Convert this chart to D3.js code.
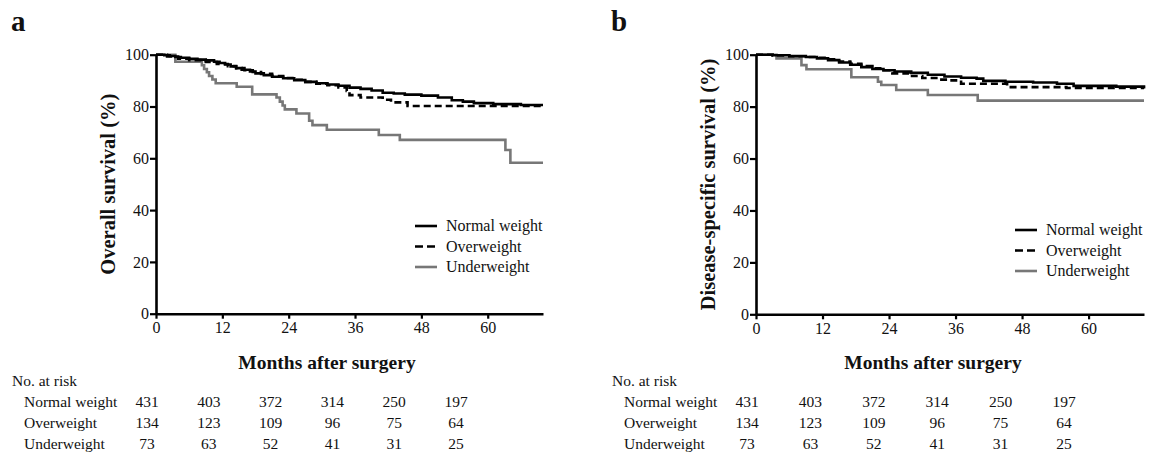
<!DOCTYPE html>
<html>
<head>
<meta charset="utf-8">
<script src="https://cdn.jsdelivr.net/npm/d3@7"></script>
<style>
  html, body { margin: 0; padding: 0; background: #fff; }
  svg { display: block; font-family: "Liberation Serif", "Times New Roman", serif; }
</style>
</head>
<body>
<svg id="chart" width="1150" height="460"></svg>
<script>
// ---------- data ----------
const groups = ["Normal weight", "Overweight", "Underweight"];
const xTicks = [0, 12, 24, 36, 48, 60];
const yTicks = [0, 20, 40, 60, 80, 100];
const maxMonth = 70;

// Overall survival (panel a): [month, survival %]
const osNormal = [[0,100],[1.5,99.8],[2.5,99.5],[3.5,99.1],[4.5,98.8],[6,98.4],[7.5,98.1],[9,97.8],[10.5,97.3],[11.5,96.8],[12.5,96.2],[13.5,95.5],[14.5,94.8],[15.5,94.2],[17,93.5],[18,92.8],[19.5,92.1],[21,91.5],[23,90.9],[25,90.2],[27,89.5],[29,89.0],[31,88.5],[33,88.0],[35,87.3],[37,86.8],[39,86.2],[41,85.3],[43,85.0],[45,84.6],[48,84.2],[51,83.5],[53.5,82.4],[55.5,81.9],[57.5,81.3],[61,80.9],[66,80.6],[70,80.6]];
const osOver = [[0,100],[2,99.3],[4,98.5],[6,97.9],[9,97.2],[11,96.4],[13,95.6],[14.5,94.8],[16,94.0],[17.5,93.3],[19,92.6],[21,91.8],[23,91.0],[25,90.3],[27,89.5],[29,88.8],[31,88.2],[33,87.4],[34.5,86.0],[35,84.4],[37,83.5],[41,82.6],[42.5,81.6],[45.5,80.2],[70,80.1]];
const osUnder = [[0,100],[3.5,97.3],[8.3,95.9],[8.7,94.5],[9.2,93.2],[9.6,91.8],[10.2,90.4],[10.8,89.0],[14.6,87.6],[17.4,84.7],[21.8,83.5],[22.4,81.9],[22.9,80.4],[23.3,78.9],[25.4,77.3],[27.7,74.5],[28.3,72.8],[30.9,71.0],[40.3,69.0],[44.1,67.1],[63.2,63.2],[64.1,58.3],[70,58.3]];

// Disease-specific survival (panel b)
const dssNormal = [[0,100],[3,99.8],[6,99.5],[9,99.1],[11,98.6],[13,97.9],[15,97.0],[17,96.1],[19,95.2],[21,94.5],[23,94.0],[25,93.5],[28,93.0],[31,92.3],[34,91.6],[37,91.1],[39.8,90.8],[41,89.9],[45,89.6],[50,89.3],[54.3,88.8],[57.3,88.0],[65,87.7],[70,87.5]];
const dssOver = [[0,100],[3,99.7],[6,99.4],[9,99.1],[11,98.8],[13,98.2],[15,97.4],[17,96.5],[19,95.6],[21,94.8],[23,94.0],[24.6,92.8],[27.6,91.8],[30,91.0],[33,90.4],[35,90.1],[37,88.8],[45.3,87.5],[56,87.2],[70,87.0]];
const dssUnder = [[0,100],[3.7,98.6],[8.2,96.0],[9.1,94.4],[17.2,91.3],[22.0,89.6],[22.6,88.3],[25.3,86.4],[31.0,84.5],[40.0,82.3],[70,82.3]];

// Numbers at risk (same in both panels)
const riskNormal = [431, 403, 372, 314, 250, 197];
const riskOver = [134, 123, 109, 96, 75, 64];
const riskUnder = [73, 63, 52, 41, 31, 25];

// ---------- drawing ----------
const svg = d3.select("#chart");
svg.append("rect").attr("width", 1150).attr("height", 460).attr("fill", "#fff");

const styles = [
  { color: "#000", dash: null },
  { color: "#000", dash: "7,4" },
  { color: "#777", dash: null }
];

const panels = [
  { letter: "a", lx: 11, ylabel: "Overall survival (%)", x0: 156, x1: 543, y0: 313.7, y1: 54.7,
    series: [osNormal, osOver, osUnder], legX: 415, legY: 226,
    tabX: 12, colX0: 147, colDx: 61.8, titleX: 327 },
  { letter: "b", lx: 611, ylabel: "Disease-specific survival (%)", x0: 756, x1: 1144, y0: 314.3, y1: 54.7,
    series: [dssNormal, dssOver, dssUnder], legX: 1015, legY: 230,
    tabX: 612, colX0: 747, colDx: 63.4, titleX: 933 }
];
const risks = [riskNormal, riskOver, riskUnder];

panels.forEach(p => {
  const g = svg.append("g");
  const x = d3.scaleLinear().domain([0, maxMonth]).range([p.x0, p.x1]);
  const y = d3.scaleLinear().domain([0, 100]).range([p.y0, p.y1]);

  // panel letter
  g.append("text").attr("x", p.lx).attr("y", 31)
    .attr("font-size", 29).attr("font-weight", "bold").attr("fill", "#111").text(p.letter);

  // curves
  const line = d3.line().x(d => x(d[0])).y(d => y(d[1])).curve(d3.curveStepAfter);
  [2, 1, 0].forEach(i => {
    g.append("path").datum(p.series[i])
      .attr("d", line)
      .attr("fill", "none")
      .attr("stroke", styles[i].color)
      .attr("stroke-width", 2.6)
      .attr("stroke-dasharray", styles[i].dash);
  });

  // axes
  const xAxis = d3.axisBottom(x).tickValues(xTicks).tickSize(5).tickSizeOuter(0).tickPadding(3);
  const yAxis = d3.axisLeft(y).tickValues(yTicks).tickSize(6).tickSizeOuter(0).tickPadding(1);
  const gx = g.append("g").attr("transform", `translate(0,${p.y0})`).call(xAxis);
  const gy = g.append("g").attr("transform", `translate(${p.x0},0)`).call(yAxis);
  [gx, gy].forEach(a => {
    a.attr("font-family", null);
    a.select(".domain").attr("stroke", "#000").attr("stroke-width", 2.6);
    a.selectAll(".tick line").attr("stroke", "#000").attr("stroke-width", 2.2);
    a.selectAll(".tick text").attr("font-size", 16).attr("fill", "#111");
  });

  // axis titles
  g.append("text").attr("x", p.titleX).attr("y", 369)
    .attr("text-anchor", "middle").attr("font-size", 19.5).attr("font-weight", "bold")
    .attr("fill", "#111").text("Months after surgery");
  g.append("text")
    .attr("transform", `translate(${p.x0 - 41},${(p.y0 + p.y1) / 2}) rotate(-90)`)
    .attr("text-anchor", "middle").attr("font-size", 20.5).attr("font-weight", "bold")
    .attr("fill", "#111").text(p.ylabel);

  // legend
  groups.forEach((name, i) => {
    const ly = p.legY + i * 20.5;
    g.append("line").attr("x1", p.legX).attr("x2", p.legX + 22).attr("y1", ly).attr("y2", ly)
      .attr("stroke", styles[i].color).attr("stroke-width", 2.6)
      .attr("stroke-dasharray", i === 1 ? "8,4" : null);
    g.append("text").attr("x", p.legX + 31).attr("y", ly).attr("dy", "0.33em")
      .attr("font-size", 16).attr("fill", "#111").text(name);
  });

  // risk table
  g.append("text").attr("x", p.tabX).attr("y", 386).attr("font-size", 15.5)
    .attr("fill", "#111").text("No. at risk");
  groups.forEach((name, i) => {
    const ry = 407 + i * 21;
    g.append("text").attr("x", p.tabX + 12).attr("y", ry).attr("font-size", 15.5)
      .attr("fill", "#111").text(name);
    risks[i].forEach((v, j) => {
      g.append("text").attr("x", p.colX0 + j * p.colDx).attr("y", ry)
        .attr("text-anchor", "middle").attr("font-size", 15.5).attr("fill", "#111").text(v);
    });
  });
});
</script>
</body>
</html>
